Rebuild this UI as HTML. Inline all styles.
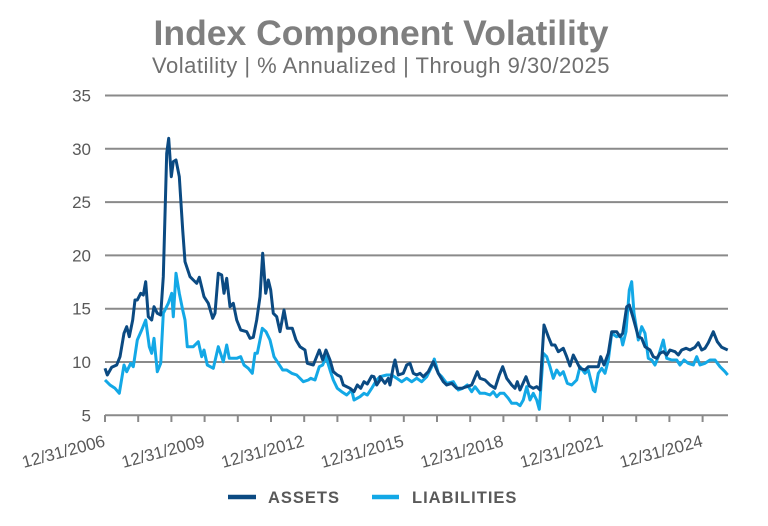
<!DOCTYPE html>
<html><head><meta charset="utf-8"><style>
body{margin:0;background:#fff;width:768px;height:521px;overflow:hidden;font-family:"Liberation Sans",Arial,sans-serif}
</style></head><body>
<svg id="s" width="768" height="521" xmlns="http://www.w3.org/2000/svg" font-family="Liberation Sans, Arial, sans-serif">
<text x="381" y="45" text-anchor="middle" font-size="35.5" font-weight="bold" fill="#7f7f7f">Index Component Volatility</text>
<text x="381" y="73" text-anchor="middle" font-size="22" letter-spacing="0.5" fill="#6f6f6f">Volatility | % Annualized | Through 9/30/2025</text>
<g id="grid" stroke="#8a8a8a" stroke-width="2"></g>
<g id="ylab" font-size="17" fill="#595959" text-anchor="end"></g>
<g id="xlab" font-size="17" fill="#595959" text-anchor="end"></g>
<polyline id="lia" fill="none" stroke="#13a8e6" stroke-width="3" stroke-linejoin="round"/>
<polyline id="ast" fill="none" stroke="#0b4a82" stroke-width="3" stroke-linejoin="round"/>
<line x1="228" y1="497" x2="256" y2="497" stroke="#0b4a82" stroke-width="4.5"/>
<text x="268" y="503" font-size="16.5" font-weight="bold" fill="#595959" letter-spacing="1">ASSETS</text>
<line x1="372" y1="497" x2="399" y2="497" stroke="#13a8e6" stroke-width="4.5"/>
<text x="412" y="503" font-size="16.5" font-weight="bold" fill="#595959" letter-spacing="1">LIABILITIES</text>
</svg>
<script>
var ns="http://www.w3.org/2000/svg";
function el(p,t,a,txt){var e=document.createElementNS(ns,t);for(var k in a)e.setAttribute(k,a[k]);if(txt)e.textContent=txt;document.getElementById(p).appendChild(e);}
for(var v=5;v<=35;v+=5){var y=415.3-(v-5)*10.66;el("grid","line",{x1:105,x2:728,y1:y,y2:y});el("ylab","text",{x:91,y:y+6},String(v));}
for(var i=0;i<19;i++){var x=105+i*33.2;el("grid","line",{x1:x,x2:x,y1:415,y2:422});}
var yrs=[2006,2009,2012,2015,2018,2021,2024];
yrs.forEach(function(yr,i){var x=105+i*3*33.2;el("xlab","text",{x:x+1,y:0,transform:"translate(0,446) rotate(-15 "+(x+1)+" 0)"},"12/31/"+yr);});
function pts(a,b){var o=[];for(var i=0;i<a.length;i+=2)o.push((a[i]/3).toFixed(1)+","+(80+a[i+1]/3).toFixed(1));for(i=0;i<b.length;i+=2)o.push((380+b[i]/3).toFixed(1)+","+(260+b[i+1]/3).toFixed(1));return o.join(" ");}
var A1=[315,865,322,885,335,862,350,855,360,830,372,760,380,740,388,770,398,720,405,660,412,660,422,640,430,645,437,605,445,710,455,720,462,680,472,700,482,705,490,590,500,220,506,175,514,290,520,245,528,240,538,290,548,450,555,545,570,590,580,600,590,610,598,592,612,650,625,670,638,715,645,700,655,580,665,585,672,640,680,595,690,680,700,670,710,720,722,750,740,755,750,775,760,772,770,720,780,650,788,520,797,640,805,600,812,630,820,700,830,710,840,755,852,690,862,745,877,745,888,780,900,800,915,810,922,850,940,855,958,810,968,840,978,810,990,840,1000,875,1012,885,1022,890,1030,915,1050,925,1062,935,1072,915,1082,925,1092,905,1102,912,1115,888,1122,890,1130,915,1140,900];
var A2=[0,350,15,370,25,355,30,375,40,320,45,300,55,345,70,340,80,315,90,310,100,340,110,345,120,340,130,350,145,335,160,305,175,340,190,365,200,375,215,370,230,385,245,385,260,380,275,375,292,335,300,355,315,360,330,375,345,385,358,345,368,320,380,355,395,375,405,385,412,365,420,390,438,350,448,378,460,385,470,380,480,390,492,195,505,230,515,255,525,255,535,275,550,265,560,290,570,318,580,285,590,305,600,325,615,330,625,320,640,320,655,320,662,290,672,315,685,280,695,215,710,215,720,230,728,220,740,140,748,135,760,175,775,230,785,235,795,260,810,270,820,290,830,295,840,280,850,275,860,285,870,270,885,275,895,285,905,270,918,265,930,270,945,262,955,248,965,270,975,265,985,248,1000,215,1012,245,1025,262,1043,270];
var L1=[315,900,330,915,345,925,358,940,372,855,380,875,392,850,400,860,412,780,425,750,437,720,448,800,455,820,462,775,472,875,482,850,490,700,505,670,515,640,520,710,528,580,538,640,548,690,555,720,562,800,580,800,595,785,605,830,612,810,622,855,640,865,655,800,670,845,680,795,688,835,710,835,722,830,732,855,745,865,757,880,765,820,772,820,787,745,798,755,810,780,822,830,835,850,848,870,860,870,875,880,890,885,910,905,925,900,932,895,945,900,958,860,968,855,978,830,990,870,1000,900,1012,925,1025,935,1040,945,1055,930,1062,960,1080,950,1092,940,1102,945,1115,925,1130,900,1140,890];
var L2=[0,350,20,345,35,345,50,355,65,365,80,355,95,365,110,355,125,365,140,350,155,320,163,297,175,340,185,350,200,370,220,365,235,390,248,385,262,375,275,395,285,380,300,400,315,400,330,405,340,395,350,410,360,400,372,400,385,415,395,430,410,430,420,437,430,420,440,380,450,420,460,400,470,420,478,448,490,280,500,290,510,320,520,355,530,330,540,345,550,335,562,370,575,375,590,360,600,320,615,340,625,330,640,390,645,395,655,340,665,325,675,340,685,300,695,220,710,230,722,225,728,255,738,215,748,90,755,65,762,160,775,240,785,200,795,220,805,295,815,300,825,315,835,290,850,240,860,295,875,300,890,300,900,315,912,300,925,310,940,315,950,290,960,315,975,310,990,300,1005,300,1020,320,1035,335,1043,345];
document.getElementById("ast").setAttribute("points",pts(A1,A2));
document.getElementById("lia").setAttribute("points",pts(L1,L2));
</script>
</body></html>
